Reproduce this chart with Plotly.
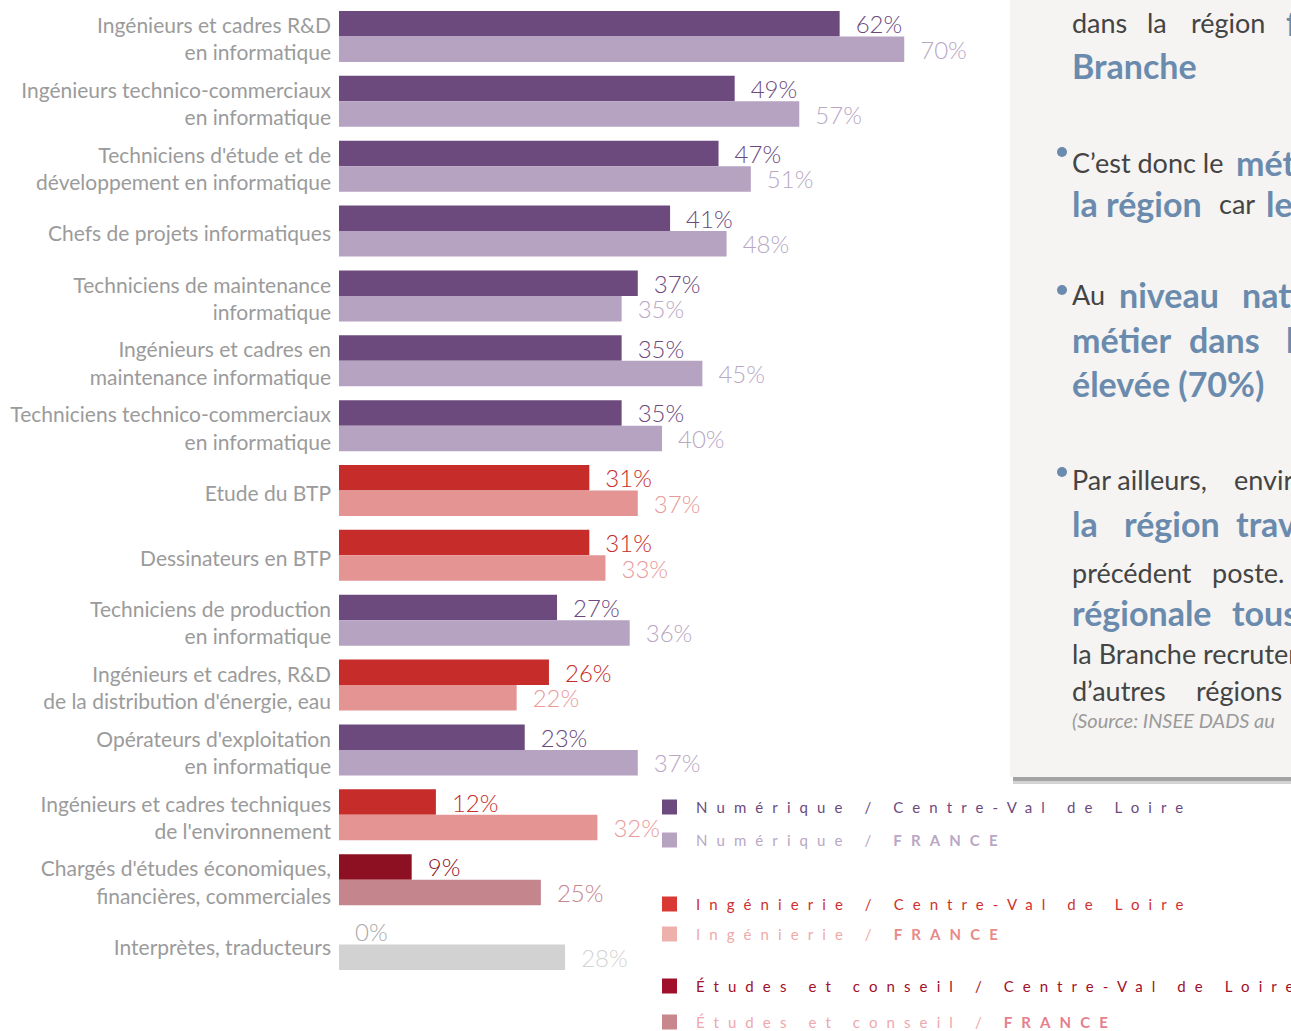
import plotly.graph_objects as go

# ---------------- data ----------------
categories = [
    "Ingénieurs et cadres R&D<br>en informatique",
    "Ingénieurs technico-commerciaux<br>en informatique",
    "Techniciens d'étude et de<br>développement en informatique",
    "Chefs de projets informatiques",
    "Techniciens de maintenance<br>informatique",
    "Ingénieurs et cadres en<br>maintenance informatique",
    "Techniciens technico-commerciaux<br>en informatique",
    "Etude du BTP",
    "Dessinateurs en BTP",
    "Techniciens de production<br>en informatique",
    "Ingénieurs et cadres, R&D<br>de la distribution d'énergie, eau",
    "Opérateurs d'exploitation<br>en informatique",
    "Ingénieurs et cadres techniques<br>de l'environnement",
    "Chargés d'études économiques,<br>financières, commerciales",
    "Interprètes, traducteurs",
]
region_values = [62, 49, 47, 41, 37, 35, 35, 31, 31, 27, 26, 23, 12, 9, 0]
france_values = [70, 57, 51, 48, 35, 45, 40, 37, 33, 36, 22, 37, 32, 25, 28]
branches = ["Numérique"] * 7 + ["Ingénierie", "Ingénierie", "Numérique", "Ingénierie",
                                 "Numérique", "Ingénierie", "Études", "Autre"]

# ---------------- styles ----------------
bar_region = {"Numérique": "#6c4a7e", "Ingénierie": "#c62d2a", "Études": "#8c0f22", "Autre": "#a8a8a8"}
bar_france = {"Numérique": "#b6a2c1", "Ingénierie": "#e39493", "Études": "#c5858c", "Autre": "#d1d2d1"}
txt_region = {"Numérique": "#6c4a7e", "Ingénierie": "#c62d2a", "Études": "#8c0f22", "Autre": "#a9a9a9"}
txt_france = {"Numérique": "#b9a7c4", "Ingénierie": "#e99b9a", "Études": "#c5858c", "Autre": "#d4d4d4"}

W, H = 1291, 1031
ML, MR, MT, MB = 339, 0, 4, 54
PW, PH = W - ML - MR, H - MT - MB
PX_PER_PCT = 8.075


def px(x):
    return (x - ML) / PW


def py(y):
    return (H - MB - y) / PH


fig = go.Figure()
common = dict(orientation="h", textposition="outside", cliponaxis=False,
              constraintext="none", texttemplate="\u00a0\u00a0%{x}%", hoverinfo="skip")
fig.add_trace(go.Bar(
    y=categories, x=region_values, name="Centre-Val de Loire",
    marker=dict(color=[bar_region[b] for b in branches], line=dict(width=0)),
    textfont=dict(family="Lato", size=24, weight=300, color=[txt_region[b] for b in branches]),
    **common))
fig.add_trace(go.Bar(
    y=categories, x=france_values, name="France",
    marker=dict(color=[bar_france[b] for b in branches], line=dict(width=0)),
    textfont=dict(family="Lato", size=24, weight=300, color=[txt_france[b] for b in branches]),
    **common))

shapes = []
annotations = []

# ---------------- right text panel ----------------
shapes.append(dict(type="rect", xref="paper", yref="paper", layer="below",
                   x0=px(1013), x1=px(1320), y0=py(784), y1=py(777),
                   fillcolor="#d3d3d3", line=dict(width=0)))
shapes.append(dict(type="rect", xref="paper", yref="paper", layer="below",
                   x0=px(1013), x1=px(1320), y0=py(781), y1=py(776),
                   fillcolor="#a4a4a4", line=dict(width=0)))
shapes.append(dict(type="rect", xref="paper", yref="paper", layer="below",
                   x0=px(1010), x1=px(1320), y0=py(777), y1=py(-10),
                   fillcolor="#f5f4f2", line=dict(width=0)))

BLUE = "#6a8bad"
DARK = "#444444"
N = dict(family="Lato", size=27, color=DARK)
B = dict(family="Lato", size=34, color=BLUE, weight=700)
I = dict(family="Lato", size=20, color="#9a9a9a", style="italic")

panel_lines = [
    (23, [(1073, "dans", N), (1148, "la", N), (1192, "région", N), (1287, "font", B)]),
    (65, [(1073, "Branche", B)]),
    (162, [(1073, "C’est donc le", N), (1237, "métier", B)]),
    (203, [(1073, "la région", B), (1220, "car", N), (1267, "les", B)]),
    (295, [(1073, "Au", N), (1120, "niveau", B), (1243, "national", B)]),
    (340, [(1073, "métier", B), (1190, "dans", B), (1287, "la", B)]),
    (383, [(1073, "élevée (70%)", B)]),
    (480, [(1073, "Par ailleurs,", N), (1235, "environ", N)]),
    (523, [(1073, "la", B), (1125, "région", B), (1237, "travaillent", B)]),
    (572, [(1073, "précédent", N), (1213, "poste.", N)]),
    (612, [(1073, "régionale", B), (1233, "tous", B)]),
    (653, [(1073, "la Branche recrutent", N)]),
    (690, [(1073, "d’autres", N), (1197, "régions", N)]),
    (720, [(1073, "(Source: INSEE DADS au", I)]),
]
for yline, runs in panel_lines:
    for xr, txt, f in runs:
        annotations.append(dict(xref="paper", yref="paper", x=px(xr - 3), y=py(yline),
                                xanchor="left", yanchor="middle", showarrow=False,
                                text=txt, font=f))
for yb in [152, 290, 472]:
    shapes.append(dict(type="circle", xref="paper", yref="paper",
                       x0=px(1057), x1=px(1067), y0=py(yb + 5), y1=py(yb - 5),
                       fillcolor=BLUE, line=dict(width=0)))

# ---------------- legend ----------------
LS = 9.1
legend_items = [
    (807, "#6c4a7e", "#6c4a7e", "Numérique / Centre-Val de Loire", None),
    (840, "#b6a2c1", "#b9a7c4", "Numérique / ", ("FRANCE", "#b9a7c4")),
    (904, "#d83a33", "#d0302d", "Ingénierie / Centre-Val de Loire", None),
    (934, "#eeb0ab", "#eeaaa8", "Ingénierie / ", ("FRANCE", "#e88a88")),
    (986, "#a0102a", "#a0102a", "Études et conseil / Centre-Val de Loire", None),
    (1022, "#c8878d", "#eea8ae", "Études et conseil / ", ("FRANCE", "#e5808d")),
]
for yl, sq, tc, label, bold in legend_items:
    shapes.append(dict(type="rect", xref="paper", yref="paper", layer="above",
                       x0=px(662), x1=px(677), y0=py(yl + 7.5), y1=py(yl - 7.5),
                       fillcolor=sq, line=dict(width=0)))
    inner = label
    if bold:
        inner += f"<b><span style='color:{bold[1]}'>{bold[0]}</span></b>"
    annotations.append(dict(xref="paper", yref="paper", x=px(694), y=py(yl),
                            xanchor="left", yanchor="middle", showarrow=False,
                            text=f"<span style='letter-spacing:{LS}px'>{inner}</span>",
                            font=dict(family="Lato", size=15, color=tc)))

fig.update_layout(
    width=W, height=H,
    margin=dict(l=ML, r=MR, t=MT, b=MB, pad=0),
    paper_bgcolor="white", plot_bgcolor="white",
    showlegend=False,
    barmode="group", bargap=0.214, bargroupgap=0,
    xaxis=dict(range=[0, PW / PX_PER_PCT], visible=False, fixedrange=True),
    yaxis=dict(type="category", range=[14.5, -0.5], showgrid=False, showline=False,
               zeroline=False, ticks="", ticklabelstandoff=7, ticklabelshift=-3,
               fixedrange=True,
               tickfont=dict(family="Lato", size=21, color="#9b9b9b")),
    shapes=shapes, annotations=annotations,
)

fig.write_html("out.html", config={"displayModeBar": False},
               post_script="document.body.style.margin='0';document.body.style.overflow='hidden';")
